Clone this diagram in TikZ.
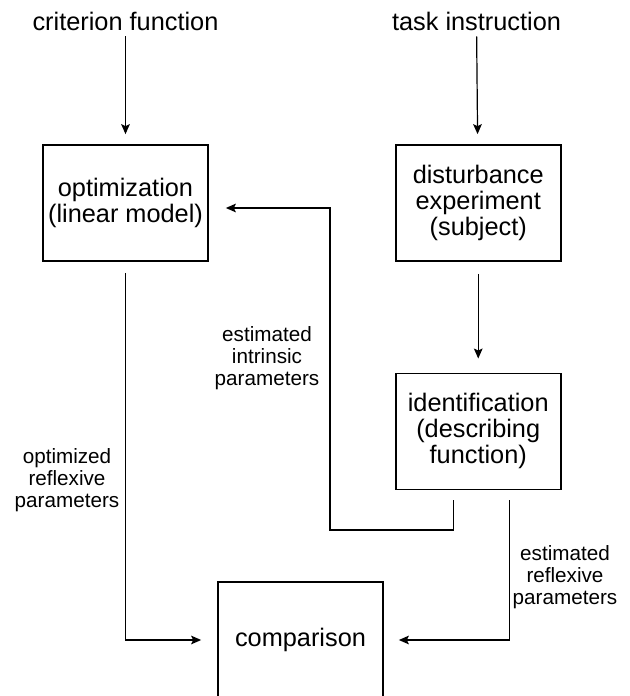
\documentclass[tikz,border=0pt]{standalone}
\usepackage{fontspec}
\setmainfont{Liberation Sans}
\usetikzlibrary{positioning,arrows.meta}
\tikzstyle{box} = [rectangle,
                   minimum width=123.75pt,
                   minimum height=87pt,
                   inner sep=0pt,
                   align=center,
                   draw=black,
                   line width=1.3pt,
                   font=\fontsize{19}{19.5}\selectfont]
\tikzstyle{head} = [anchor=base,
                    font=\fontsize{19}{19.5}\selectfont]
\tikzstyle{tag} = [align=center,
                   inner sep=0pt,
                   font=\fontsize{15.5}{16.5}\selectfont]
\tikzstyle{flow} = [x=0.75pt,
                    y=-0.75pt,
                    >={Stealth[length=7.5pt,width=6.5pt,inset=1.5pt]},
                    line width=0.9pt]

\begin{document}
\begin{tikzpicture}[flow]
    \useasboundingbox (0,0) rectangle (629,696);
    \node (crit) [head] at (125.5,31) {criterion function};
    \node (task) [head] at (476.5,31) {task instruction};
    \node (opt) [box] at (125.5,203) {optimization\\(linear model)};
    \node (dist) [box, right=139.5pt of opt] {disturbance\\experiment\\(subject)};
    \node (ident) [box, below=83pt of dist] {identification\\(describing\\function)};
    \node (comp) [box] at (300.5,640) {comparison};
    \coordinate (loop) at (330,530);
    \node (intr) [tag] at (267,358) {estimated\\intrinsic\\parameters};
    \node (optr) [tag] at (67,480) {optimized\\reflexive\\parameters};
    \node (estr) [tag] at (565,577) {estimated\\reflexive\\parameters};
    % inputs
    \draw[->, shorten >=7.5pt] (crit) -- (opt);
    \draw[->, shorten >=7.5pt] (task) -- (dist);
    \draw[->, shorten <=9pt, shorten >=10.5pt] (dist) -- (ident);
    % feedback and results
    \draw[->, shorten <=7.5pt, shorten >=12.75pt]
      ([xshift=-18.4pt]ident.south) |- (loop) |- ([yshift=-3.75pt]opt.east);
    \draw[->, shorten <=8.25pt, shorten >=12pt] (opt.south) |- (comp.west);
    \draw[->, shorten <=7.5pt, shorten >=11.25pt] ([xshift=23.25pt]ident.south) |- (comp.east);
\end{tikzpicture}
\end{document}
